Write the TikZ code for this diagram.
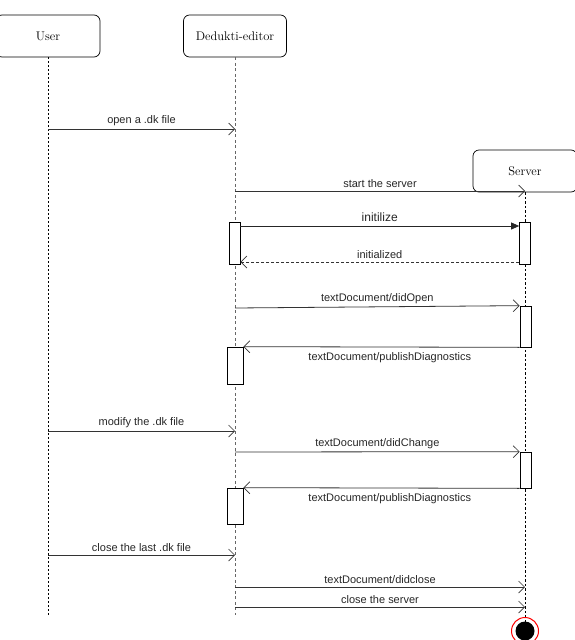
\documentclass[tikz,border=0pt]{standalone}
\usepackage{fontspec}
\newfontfamily\msgfont{Liberation Sans}
\usetikzlibrary{arrows.meta}
\begin{document}
\begin{tikzpicture}[x=1pt,y=-1pt,
  actor/.style={draw, rounded corners=6pt, minimum height=42pt, inner sep=0pt, line width=0.7pt, font=\fontsize{12.5}{14}\selectfont},
  act/.style={draw, fill=white, minimum width=11pt, inner sep=0pt, line width=0.7pt},
  msg/.style={draw=black!80, line width=0.8pt, -{Straight Barb[length=6pt,width=12pt,line width=0.7pt]}},
  msgfilled/.style={draw=black!85, line width=0.8pt, -{Triangle[length=8pt,width=7pt]}},
  reply/.style={msg, dashed, dash pattern=on 3pt off 2pt},
  lbl/.style={font=\msgfont\fontsize{11}{13}\selectfont, text=black!85, inner sep=1pt},
  lifeuser/.style={line width=1pt, dash pattern=on 2pt off 2pt},
  lifeedit/.style={draw=black!60, line width=0.6pt, dash pattern=on 3pt off 2.5pt},
  lifeserv/.style={line width=1pt, dash pattern=on 2.5pt off 2pt}
]
\useasboundingbox (0,0) rectangle (574,640);

% actors
\node[actor, minimum width=104pt] (user) at (48,36) {User};
\node[actor, minimum width=103pt] (editor) at (235,36) {Dedukti-editor};
\node[actor, minimum width=104pt] (server) at (525,171) {Server};

% lifeline ends
\coordinate (userend) at (48,615);
\coordinate (editend) at (235,615);
\coordinate (servend) at (525,622);
\draw[lifeuser] (user.south) -- (userend);
\draw[lifeedit] (editor.south) -- (editend);
\draw[lifeserv] (server.south) -- (servend);

% lifeline anchor points
\foreach \n/\y in {1/129,3/431,5/555} {
  \coordinate (u\n) at (48,\y);
  \coordinate (e\n) at (235,\y);
}
\coordinate (e2) at (235,191); \coordinate (s2) at (525,191);
\coordinate (e6) at (235,308);
\coordinate (e7) at (235,452);
\coordinate (e8) at (235,587); \coordinate (s8) at (525,587);
\coordinate (e9) at (235,607); \coordinate (s9) at (525,607);

% activation boxes
\node[act, minimum height=42pt] (ea1) at (234.5,243) {};
\node[act, minimum height=42pt] (sa1) at (525,243) {};
\node[act, minimum height=41pt] (sa2) at (525.5,326.5) {};
\node[act, minimum width=16pt, minimum height=37pt] (ea2) at (235,365.5) {};
\node[act, minimum height=36pt] (sa3) at (525.5,470) {};
\node[act, minimum width=16pt, minimum height=36pt] (ea3) at (235,506) {};

% messages
\draw[msg] (u1) -- node[lbl, above=2pt] {open a .dk file} (e1);
\draw[msg] (e2) -- node[lbl, above=2pt] {start the server} (s2);
\draw[msgfilled] (ea1.north east |- 0,226) coordinate (i1)
   -- node[lbl, above=3pt, font=\msgfont\fontsize{12}{14}\selectfont] {initilize} (sa1.north west |- 0,226) coordinate (i2);
\draw[reply] (sa1.north west |- 0,262) coordinate (r1)
   -- node[lbl, above=2pt] {initialized} (ea1.north east |- 0,262) coordinate (r2);
\draw[msg] (e6) -- node[lbl, above=2pt] {textDocument/didOpen} (sa2.north west);
\draw[msg] (sa2.south west) -- node[lbl, below=4pt, pos=0.47] {textDocument/publishDiagnostics} (ea2.north east);
\draw[msg] (u3) -- node[lbl, above=2pt] {modify the .dk file} (e3);
\draw[msg] (e7) -- node[lbl, above=2pt] {textDocument/didChange} (sa3.north west);
\draw[msg] (sa3.south west) -- node[lbl, below=4pt, pos=0.47] {textDocument/publishDiagnostics} (ea3.north east);
\draw[msg] (u5) -- node[lbl, above=2pt] {close the last .dk file} (e5);
\draw[msg] (e8) -- node[lbl, above=2pt] {textDocument/didclose} (s8);
\draw[msg, line width=1pt] (e9) -- node[lbl, above=2pt] {close the server} (s9);

% destruction
\node[circle, fill=black, minimum size=19pt, inner sep=0pt] (stop) at (525,631) {};
\node[circle, draw=red, line width=1pt, minimum size=27pt, inner sep=0pt] (stopring) at (stop) {};
\end{tikzpicture}
\end{document}
